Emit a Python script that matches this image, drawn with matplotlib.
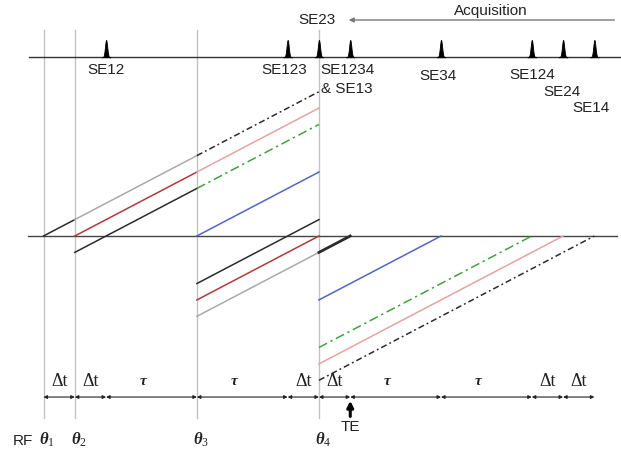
import numpy as np
import matplotlib
matplotlib.use('Agg')
import matplotlib.pyplot as plt

plt.rcParams['mathtext.fontset'] = 'custom'
plt.rcParams['mathtext.it'] = 'Liberation Serif:italic:bold'
plt.rcParams['mathtext.rm'] = 'Liberation Serif'

# time axis in units of delta-t, phase in the same units (phase grows with slope 1)
pulse_times = [0.0, 1.0, 4.9, 8.8]
pulse_labels = [r'$\theta_1$', r'$\theta_2$', r'$\theta_3$', r'$\theta_4$']

echo_times = [2.0, 7.8, 8.8, 9.8, 12.7, 15.6, 16.6, 17.6]

echo_names = ['SE12', 'SE123', 'SE1234', '& SE13', 'SE34', 'SE124', 'SE24', 'SE14']
echo_name_t = [2.0, 7.7, 8.85, 8.85, 12.6, 15.6, 16.55, 17.5]
echo_name_p = [10.1, 10.1, 10.1, 8.95, 9.75, 9.8, 8.8, 7.8]

# phase paths: start time, start phase, end time
seg_t0 = [0, 1, 4.9, 1, 4.9, 1, 4.9, 4.9, 4.9, 4.9, 4.9, 8.8, 8.8, 8.8, 8.8, 8.8]
seg_p0 = [0, 1, 4.9, 0, 3.9, -1, 2.9, 0, -2.9, -3.9, -4.9, -1, -3.9, -6.8, -7.8, -8.8]
seg_t1 = [1, 4.9, 8.8, 4.9, 8.8, 4.9, 8.8, 8.8, 8.8, 8.8, 8.8, 9.8, 12.7, 15.6, 16.6, 17.6]

# timing intervals at the bottom
bounds = [0, 1, 2, 4.9, 7.8, 8.8, 9.8, 12.7, 15.6, 16.6, 17.6]
bound_labels = ['Δt', 'Δt', 'τ', 'τ', 'Δt', 'Δt', 'τ', 'τ', 'Δt', 'Δt']
te_time = 9.8

# styles
BLACK = '#2b2b2b'
GRAY = '#a9a9a9'
DRED = '#b03a3a'
PINK = '#e4a4a4'
GREEN = '#3fa33f'
BLUE = '#5564c6'
dd_black = (0, (4, 2, 1.2, 2))
dd_green = (0, (6, 2.5, 1.5, 2.5))
seg_color = [BLACK, GRAY, BLACK, DRED, PINK, BLACK, GREEN, BLUE,
             BLACK, DRED, GRAY, BLACK, BLUE, GREEN, PINK, BLACK]
seg_style = ['-', '-', dd_black, '-', '-', '-', dd_green, '-',
             '-', '-', '-', '-', '-', dd_green, '-', dd_black]
seg_lw = [1.1] * 11 + [2.0] + [1.1] * 4

fig = plt.figure(figsize=(6.21, 4.5), dpi=100)
ax = fig.add_axes([0, 0, 1, 1])
ax.set_xlim(-1.39, 18.45)
ax.set_ylim(-13.05, 14.39)
ax.axis('off')

top_p = 10.9
time_p = -9.82

# pulse lines
for t in pulse_times:
    ax.plot([t, t], [12.56, -11.1], color='#c2c2c2', lw=1.0, zorder=1)

# baselines
ax.plot([-0.46, 18.42], [top_p, top_p], color='#333333', lw=1.0, zorder=2)
ax.plot([-0.5, 18.32], [0, 0], color='#444444', lw=1.0, zorder=2)

# phase paths
for t0, p0, t1, c, ls, lw in zip(seg_t0, seg_p0, seg_t1, seg_color, seg_style, seg_lw):
    ax.plot([t0, t1], [p0, p0 + (t1 - t0)], color=c, ls=ls, lw=lw, zorder=3)

# echo peaks
shape = np.linspace(-0.14, 0.14, 41)
for te in echo_times:
    h = 1.05 * np.exp(-(shape / 0.05) ** 2)
    ax.fill_between(te + shape, top_p, top_p + h, color='black', lw=0.6, zorder=4)

lab_font = dict(family='Liberation Sans', fontsize=11, color='#222222')
for name, t, p in zip(echo_names, echo_name_t, echo_name_p):
    ha = 'left' if name in ('SE1234', '& SE13') else 'center'
    ax.text(t, p, name, ha=ha, va='center', **lab_font)

# acquisition arrow
ax.annotate('', xy=(9.75, 13.17), xytext=(18.24, 13.17),
            arrowprops=dict(arrowstyle='-|>', color='#777777', lw=1.0,
                            mutation_scale=7, shrinkA=0, shrinkB=0))
ax.text(14.3, 13.7, 'Acquisition', ha='center', va='center', **lab_font)
ax.text(8.75, 13.17, 'SE23', ha='center', va='center', **lab_font)

# timing intervals
for a, b, lab in zip(bounds[:-1], bounds[1:], bound_labels):
    ax.annotate('', xy=(b, time_p), xytext=(a, time_p),
                arrowprops=dict(arrowstyle='<|-|>', color='#222222', lw=0.8,
                                mutation_scale=5, shrinkA=0, shrinkB=0))
    if lab == 'τ':
        ax.text((a + b) / 2 - 0.27, -8.9, lab, ha='center', va='center',
                family='Liberation Serif', style='italic', weight='bold',
                fontsize=11, color='#222222')
    else:
        ax.text((a + b) / 2, -8.9, lab, ha='center', va='center',
                family='Liberation Serif', fontsize=13, color='#222222')

# TE marker
ax.annotate('', xy=(te_time, -10.05), xytext=(te_time, -11.0),
            arrowprops=dict(arrowstyle='-|>', color='black', lw=2.2,
                            mutation_scale=9, shrinkA=0, shrinkB=0))
ax.text(te_time, -11.65, 'TE', ha='center', va='center', **lab_font)

# RF pulse labels
ax.text(-0.67, -12.5, 'RF', ha='center', va='center', **lab_font)
for t, lab in zip(pulse_times, pulse_labels):
    ax.text(t + 0.12, -12.45, lab, ha='center', va='center', fontsize=12, color='#222222')

fig.savefig('out.png', dpi=100)
plt.close(fig)
